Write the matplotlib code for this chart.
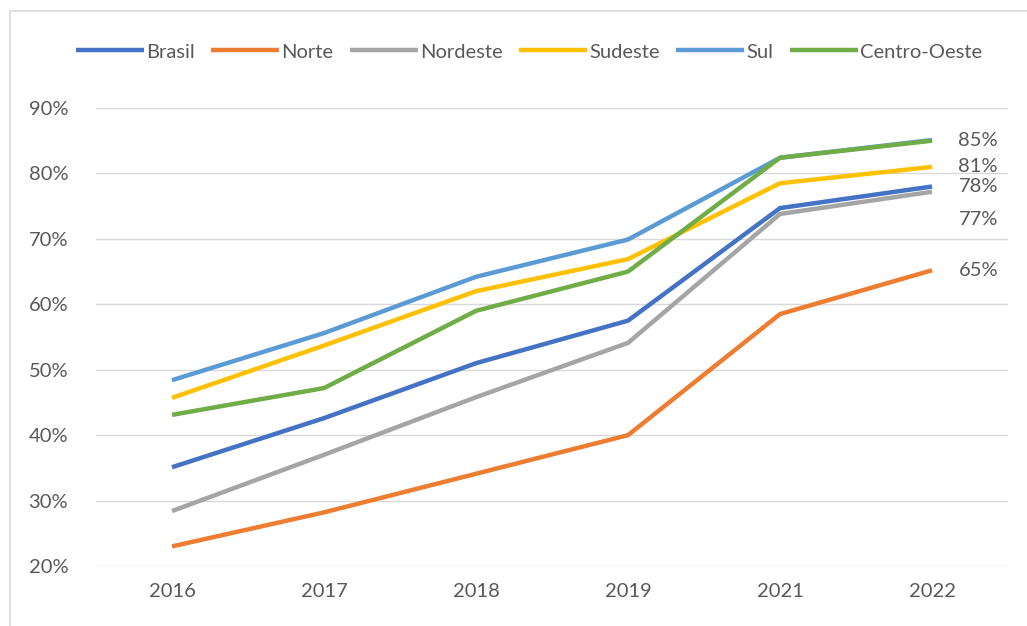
import matplotlib.pyplot as plt
from matplotlib.patches import Rectangle

plt.rcParams['font.family'] = ['Lato', 'DejaVu Sans']

years = ['2016', '2017', '2018', '2019', '2021', '2022']
brasil = [35.1, 42.6, 51.0, 57.5, 74.7, 78.0]
norte = [23.0, 28.2, 34.1, 40.0, 58.5, 65.2]
nordeste = [28.4, 37.0, 45.8, 54.1, 73.8, 77.2]
sudeste = [45.7, 53.7, 62.0, 66.9, 78.5, 81.0]
sul = [48.4, 55.6, 64.2, 69.9, 82.4, 85.1]
centro_oeste = [43.1, 47.2, 59.0, 65.0, 82.4, 85.0]

series = [
    ('Brasil', brasil, '#4472C4'),
    ('Norte', norte, '#ED7D31'),
    ('Nordeste', nordeste, '#A5A5A5'),
    ('Sudeste', sudeste, '#FFC000'),
    ('Sul', sul, '#5B9BD5'),
    ('Centro-Oeste', centro_oeste, '#70AD47'),
]
end_labels = ['78%', '65%', '77%', '81%', None, '85%']
label_dy = [0, 0, -20, 0, 0, 0]  # offset in points, nordeste pushed down

fig = plt.figure(figsize=(10.27, 6.26), dpi=100)
fig.patches.append(Rectangle((0.0097, -0.01), 1.0, 0.993, transform=fig.transFigure,
                             fill=False, edgecolor='#D9D9D9', linewidth=1.2))
ax = fig.add_axes([0.0935, 0.0958, 0.888, 0.7317])

x = list(range(len(years)))
for (name, vals, col), lab, dy in zip(series, end_labels, label_dy):
    ax.plot(x, vals, color=col, lw=3.2, label=name, solid_capstyle='butt')
    if lab:
        ax.annotate(lab, (x[-1], vals[-1]), xytext=(19, dy),
                    textcoords='offset points', va='center', ha='left',
                    fontsize=14.5, color='#595959')

ax.set_xlim(-0.5, len(years) - 0.5)
ax.set_ylim(20, 90)
ax.set_xticks(x)
ax.set_xticklabels(years)
ax.set_yticks(range(20, 91, 10))
ax.set_yticklabels([f'{v}%' for v in range(20, 91, 10)])
ax.grid(axis='y', color='#D9D9D9', lw=1)
ax.set_axisbelow(True)
for s in ax.spines.values():
    s.set_visible(False)
ax.tick_params(length=0, labelsize=14.5, labelcolor='#595959')
ax.tick_params(axis='y', pad=20)
ax.tick_params(axis='x', pad=12)

fig.legend(loc='center', bbox_to_anchor=(0.515, 0.917), ncol=6, frameon=False,
           fontsize=14.5, handlelength=3.4, handletextpad=0.1, columnspacing=0.8,
           labelcolor='#595959')

plt.savefig('out.png', dpi=100)
